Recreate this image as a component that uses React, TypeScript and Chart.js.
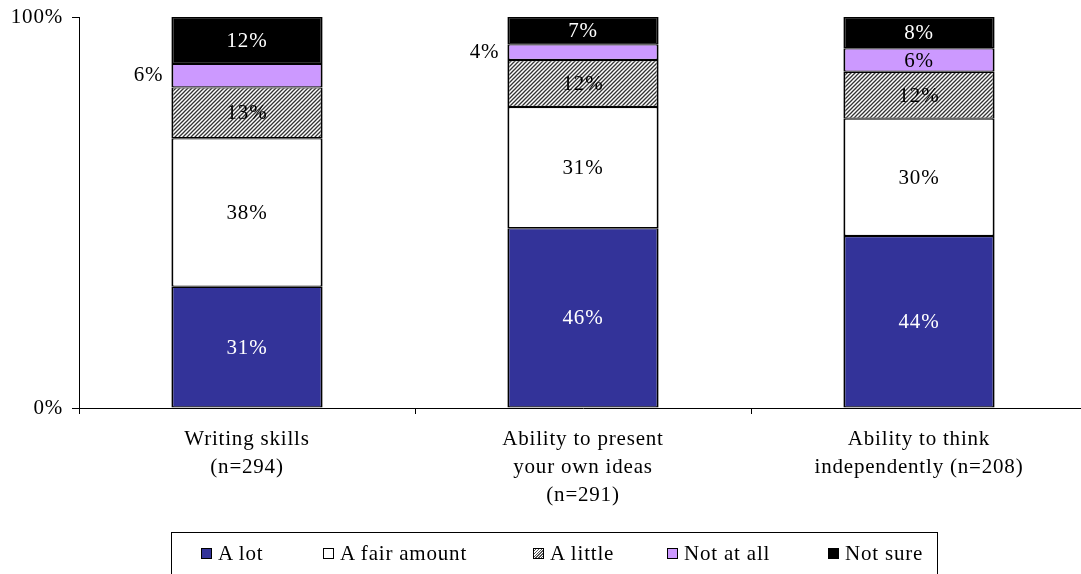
import React, { useEffect, useRef } from "react";
import { Chart, registerables } from "chart.js";

Chart.register(...registerables);

const categories: string[][] = [
  ["Writing skills", "(n=294)"],
  ["Ability to present", "your own ideas", "(n=291)"],
  ["Ability to think", "independently (n=208)"],
];

const seriesNames = ["A lot", "A fair amount", "A little", "Not at all", "Not sure"];
const aLot = [31, 46, 44];
const fairAmount = [38, 31, 30];
const aLittle = [13, 12, 12];
const notAtAll = [6, 4, 6];
const notSure = [12, 7, 8];
const notAtAllLabelOutside = [true, true, false];
const yTickValues = [0, 100];

const FONT = "'Liberation Serif', 'Times New Roman', serif";
const LETTER = "0.8px";
const FS = 21;

function makeHatch(): CanvasPattern | string {
  const c = document.createElement("canvas");
  const n = 4;
  c.width = n;
  c.height = n;
  const g = c.getContext("2d");
  if (!g) return "#999";
  g.fillStyle = "#fff";
  g.fillRect(0, 0, n, n);
  g.strokeStyle = "#333";
  g.lineWidth = 1.3;
  g.beginPath();
  g.moveTo(0, n);
  g.lineTo(n, 0);
  g.moveTo(-1, 1);
  g.lineTo(1, -1);
  g.moveTo(n - 1, n + 1);
  g.lineTo(n + 1, n - 1);
  g.stroke();
  const p = g.createPattern(c, "repeat");
  return p || "#999";
}

export default function App() {
  const ref = useRef<HTMLCanvasElement | null>(null);

  useEffect(() => {
    if (!ref.current) return;
    const hatch = makeHatch();
    const border = { top: 1.2, bottom: 1.2, left: 2, right: 2 };
    const mk = (label: string, data: number[], bg: any) => ({
      label,
      data,
      backgroundColor: bg,
      borderColor: "#000",
      borderWidth: border,
      borderSkipped: false as const,
      categoryPercentage: 0.45,
      barPercentage: 1,
    });

    const labelPlugin = {
      id: "segLabels",
      beforeDraw(chart: any) {
        (chart.ctx as any).letterSpacing = LETTER;
      },
      afterDatasetsDraw(chart: any) {
        const ctx = chart.ctx as CanvasRenderingContext2D;
        ctx.save();
        (ctx as any).letterSpacing = LETTER;
        ctx.font = `${FS}px ${FONT}`;
        ctx.textBaseline = "middle";
        chart.data.datasets.forEach((ds: any, i: number) => {
          const meta = chart.getDatasetMeta(i);
          meta.data.forEach((bar: any, j: number) => {
            const p = bar.getProps(["x", "y", "base", "width"], true);
            const v = ds.data[j];
            const cy = (p.y + p.base) / 2;
            const outside = i === 3 && notAtAllLabelOutside[j];
            if (outside) {
              ctx.textAlign = "right";
              ctx.fillStyle = "#000";
              ctx.fillText(v + "%", p.x - p.width / 2 - 8, cy);
            } else {
              ctx.textAlign = "center";
              ctx.fillStyle = i === 0 || i === 4 ? "#fff" : "#000";
              ctx.fillText(v + "%", p.x, cy + 1);
            }
          });
        });
        ctx.restore();
      },
    };

    const chart = new Chart(ref.current, {
      type: "bar",
      data: {
        labels: categories,
        datasets: [
          mk(seriesNames[0], aLot, "#333399"),
          mk(seriesNames[1], fairAmount, "#ffffff"),
          mk(seriesNames[2], aLittle, hatch),
          mk(seriesNames[3], notAtAll, "#cc99ff"),
          mk(seriesNames[4], notSure, "#000000"),
        ],
      },
      options: {
        responsive: false,
        animation: false,
        devicePixelRatio: 1,
        layout: { padding: { top: 17, right: 13, left: 0, bottom: 0 } },
        plugins: {
          legend: { display: false },
          tooltip: { enabled: false },
        },
        scales: {
          x: {
            stacked: true,
            offset: true,
            grid: {
              offset: true,
              drawOnChartArea: false,
              drawTicks: true,
              tickLength: 6,
              color: "#000",
            },
            border: { display: true, color: "#000", width: 1 },
            ticks: {
              color: "#000",
              font: { family: FONT, size: FS, lineHeight: 1.33 },
              padding: 12,
              maxRotation: 0,
              autoSkip: false,
            },
            afterFit(scale: any) {
              scale.height = 166;
              scale.paddingLeft = 0;
              scale.paddingRight = 0;
            },
          },
          y: {
            stacked: true,
            min: 0,
            max: 100,
            afterBuildTicks(scale: any) {
              scale.ticks = yTickValues.map((v) => ({ value: v }));
            },
            grid: {
              drawOnChartArea: false,
              drawTicks: true,
              tickLength: 7,
              color: "#000",
            },
            border: { display: true, color: "#000", width: 1 },
            ticks: {
              color: "#000",
              font: { family: FONT, size: FS },
              padding: 9,
              callback: (v: any) => v + "%",
            },
            afterFit(scale: any) {
              scale.width = 79;
              scale.paddingTop = 0;
              scale.paddingBottom = 0;
            },
          },
        },
      },
      plugins: [labelPlugin],
    });
    return () => chart.destroy();
  }, []);

  const legendColors = [
    "#333399",
    "#ffffff",
    "repeating-linear-gradient(135deg, #fff 0px, #fff 1px, #555 1px, #555 2px)",
    "#cc99ff",
    "#000000",
  ];
  const legendOffsets = [29, 151, 361, 495, 656];

  return (
    <div
      style={{
        position: "fixed",
        left: 0,
        top: 0,
        width: 1081,
        height: 574,
        overflow: "hidden",
        background: "#fff",
      }}
    >
      <canvas
        ref={ref}
        width={1100}
        height={574}
        style={{ position: "absolute", left: 0, top: 0, width: 1100, height: 574 }}
      />
      <div
        style={{
          position: "absolute",
          left: 171,
          top: 532,
          width: 765,
          height: 60,
          border: "1px solid #000",
          fontFamily: FONT,
          fontSize: FS,
          letterSpacing: LETTER,
          color: "#000",
        }}
      >
        {seriesNames.map((name, i) => (
          <div
            key={name}
            style={{
              position: "absolute",
              left: legendOffsets[i],
              top: 8,
              height: 24,
              display: "flex",
              alignItems: "center",
              whiteSpace: "nowrap",
            }}
          >
            <span
              style={{
                display: "inline-block",
                width: 9,
                height: 9,
                border: "1px solid #000",
                background: legendColors[i],
                marginRight: 6,
              }}
            />
            <span>{name}</span>
          </div>
        ))}
      </div>
    </div>
  );
}
